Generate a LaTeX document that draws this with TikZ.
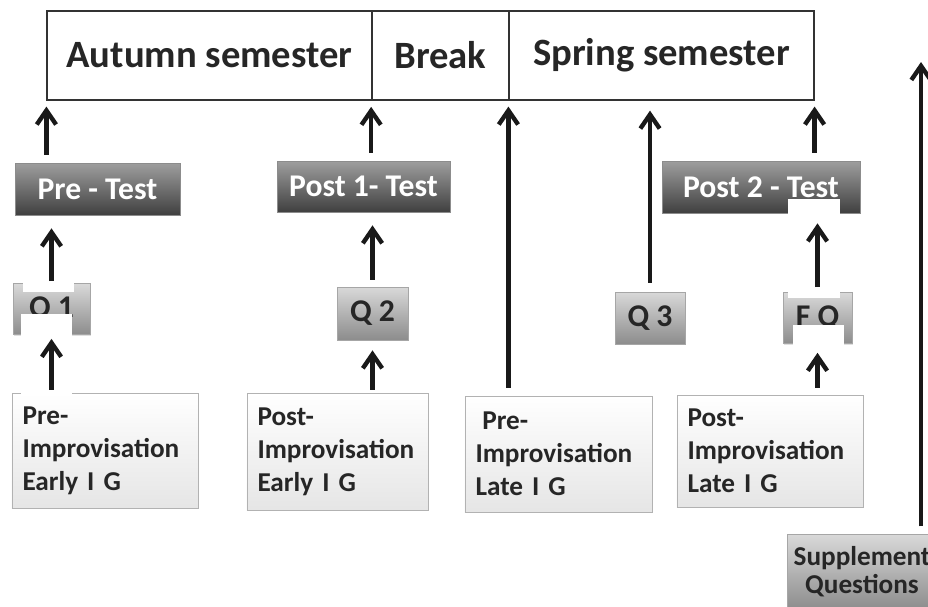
\documentclass[tikz,border=0pt]{standalone}
\usepackage{fontspec}
\setmainfont{Carlito}
\usetikzlibrary{arrows.meta,shadows}

\begin{document}
\begin{tikzpicture}[
            x=0.02cm, y=-0.02cm,
            semester/.style={draw=black!80, line width=0.7pt, minimum height=1.78cm, text=black!85,
                font=\fontsize{22}{26}\selectfont\bfseries},
            test/.style={draw=black!45, top color=black!38, bottom color=black!75, text=white,
                minimum height=1.04cm, font=\fontsize{18}{22}\selectfont\bfseries,
                drop shadow={opacity=0.25, shadow xshift=0.6pt, shadow yshift=-0.8pt}},
            quest/.style={draw=black!35, top color=black!15, bottom color=black!45, text=black!85,
                minimum height=1.04cm, font=\fontsize{18}{22}\selectfont\bfseries,
                drop shadow={opacity=0.25, shadow xshift=0.6pt, shadow yshift=-0.8pt}},
            group/.style={draw=black!30, top color=white, bottom color=black!10, text=black!85,
                align=left, inner xsep=6pt, minimum height=2.3cm,
                font=\fontsize{15.5}{18.7}\selectfont\bfseries,
                drop shadow={opacity=0.15, shadow xshift=0.6pt, shadow yshift=-0.8pt}},
            arr/.style={-{Straight Barb[length=8pt,width=11pt]}, line width=2.5pt, black!90}
        ]
        \useasboundingbox (0,0) rectangle (928,606);

        % semesters
        \node[semester, minimum width=6.5cm] (autumn) at (209.5,55.5) {Autumn semester};
        \node[semester, minimum width=6.1cm] (spring) at (661.5,55.5) {Spring semester};
        \node[semester, minimum width=2.74cm, line width=1pt] (brk) at (440.5,55.5) {Break};

        % tests
        \node[test, minimum width=3.3cm] (pre) at (97.5,189) {Pre - Test};
        \node[test, minimum width=3.46cm, minimum height=1.02cm] (post1) at (363.5,186.5) {Post 1- Test};
        \node[test, minimum width=3.96cm] (post2) at (761,187) {Post 2 - Test};

        % questionnaires
        \node[quest, minimum width=1.54cm, minimum height=1.02cm] (q1) at (51.5,309) {Q 1};
        \node[quest, minimum width=1.42cm, minimum height=1.06cm] (q2) at (372.5,313.5) {Q 2};
        \node[quest, minimum width=1.4cm] (q3) at (650,318) {Q 3};
        \node[quest, minimum width=1.38cm, minimum height=1.02cm] (fq) at (817.5,318) {F Q};
        \node[quest, align=center, minimum width=2.96cm, minimum height=1.5cm,
            font=\fontsize{15.5}{16}\selectfont\bfseries] (sup) at (862,572) {Supplement\\Questions};

        % groups
        \node[group, text width=3.3cm] (b1) at (105,450.5) {Pre-\\Improvisation\\Early I G};
        \node[group, text width=3.2cm, minimum height=2.34cm] (b2) at (337.5,451.5) {Post-\\Improvisation\\Early I G};
        \node[group, text width=3.32cm, minimum height=2.32cm] (b3) at (558.5,454) {\hspace*{0.25em}Pre-\\Improvisation\\Late I G};
        \node[group, text width=3.3cm, minimum height=2.24cm] (b4) at (770,451) {Post-\\Improvisation\\Late I G};

        % white patches
        \fill[white] (23,270) rectangle (74,292);
        \fill[white] (21,314) rectangle (72,395);
        \fill[white] (788,199) rectangle (840,298);
        \fill[white] (793,325) rectangle (844,393);

        % arrows
        \coordinate (top) at (921,62);
        \draw[arr, shorten <=4.5pt, shorten >=3.4pt] (pre.north -| autumn.south west) -- (autumn.south west);
        \draw[arr, shorten <=1.1pt, shorten >=7.4pt] (q1.north) -- (q1.north |- pre.south);
        \draw[arr, shorten <=1.7pt, shorten >=2.3pt] (b1.north -| q1.south) -- (q1.south);
        \draw[arr, shorten <=4.5pt, shorten >=3.4pt] (post1.north -| brk.south west) -- (brk.south west);
        \draw[arr, shorten <=4pt, shorten >=7.4pt] (q2.north) -- (q2.north |- post1.south);
        \draw[arr, shorten <=1.7pt, shorten >=5.7pt] (b2.north -| q2.south) -- (q2.south);
        \draw[arr, shorten <=4.5pt, shorten >=3.4pt] (b3.north -| spring.south west) -- (spring.south west);
        \draw[arr, shorten <=5.1pt, shorten >=5.7pt] (q3.north) -- (q3.north |- spring.south);
        \draw[arr, shorten <=4.5pt, shorten >=3.4pt] (post2.north -| spring.south east) -- (spring.south east);
        \draw[arr, shorten <=2.8pt, shorten >=5.7pt] (fq.north) -- (fq.north |- post2.south);
        \draw[arr, shorten <=4pt, shorten >=5.1pt] (b4.north -| fq.south) -- (fq.south);
        \draw[arr, shorten <=4.5pt] (top |- sup.north) -- (top);
    \end{tikzpicture}
\end{document}
